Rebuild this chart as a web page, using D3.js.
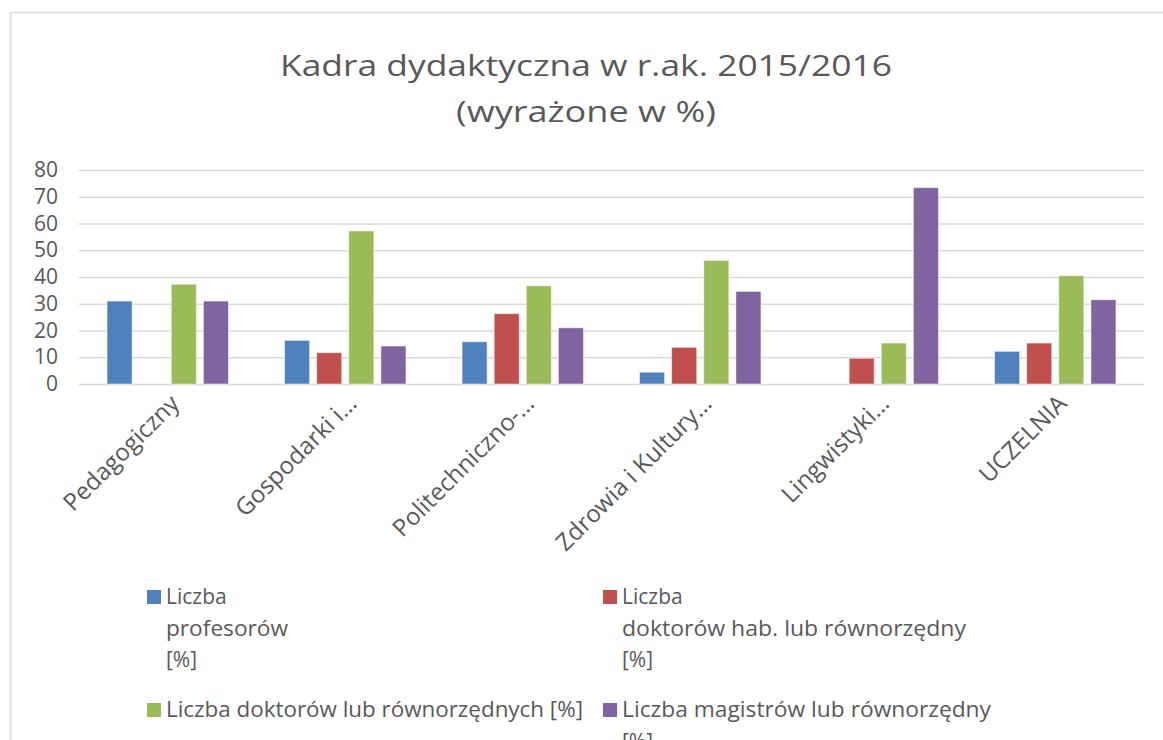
<!DOCTYPE html>
<html>
<head>
<meta charset="utf-8">
<script src="https://cdn.jsdelivr.net/npm/d3@7"></script>
<style>
  html, body { margin: 0; padding: 0; background: #fff; overflow: hidden; }
  svg { display: block; font-family: "Open Sans", sans-serif; }
</style>
</head>
<body>
<svg id="chart"></svg>
<script>
// chart data
var categories = ["Pedagogiczny", "Gospodarki i\u2026", "Politechniczno-\u2026",
    "Zdrowia i Kultury\u2026", "Lingwistyki\u2026", "UCZELNIA"];
var seriesNames = [
    ["Liczba", "profesorów", "[%]"],
    ["Liczba", "doktorów hab. lub równorzędny", "[%]"],
    ["Liczba doktorów lub równorzędnych [%]"],
    ["Liczba magistrów lub równorzędny", "[%]"]
];
var profesorow = [31.0, 16.3, 15.8, 4.4, null, 12.2];
var doktorowHab = [null, 11.7, 26.3, 13.7, 9.6, 15.3];
var doktorow = [37.3, 57.2, 36.7, 46.2, 15.3, 40.5];
var magistrow = [31.0, 14.2, 21.0, 34.6, 73.4, 31.5];
var yTicks = [0, 10, 20, 30, 40, 50, 60, 70, 80];
var colors = ["#4F81BD", "#C0504D", "#9BBB59", "#8064A2"];

var series = [profesorow, doktorowHab, doktorow, magistrow];

var width = 1163, height = 740;
var svg = d3.select('#chart')
    .attr('width', width)
    .attr('height', height);

// outer frame of the chart
svg.append('rect')
    .attr('x', 10.5).attr('y', 12.5)
    .attr('width', 1170).attr('height', 800)
    .attr('fill', 'none')
    .attr('stroke', '#d9d9d9')
    .attr('stroke-width', 1.5);

// title
svg.append('text')
    .attr('x', 586).attr('y', 76)
    .attr('text-anchor', 'middle')
    .attr('font-size', 30)
    .attr('fill', '#595959')
    .attr('textLength', 612)
    .attr('lengthAdjust', 'spacingAndGlyphs')
    .text('Kadra dydaktyczna w r.ak. 2015/2016');
svg.append('text')
    .attr('x', 586).attr('y', 122)
    .attr('text-anchor', 'middle')
    .attr('font-size', 30)
    .attr('fill', '#595959')
    .attr('textLength', 260)
    .attr('lengthAdjust', 'spacingAndGlyphs')
    .text('(wyrażone w %)');

var x0 = d3.scaleBand()
    .domain(categories)
    .range([79, 1144])
    .paddingInner(0.316)
    .paddingOuter(0.158);

var x1 = d3.scaleBand()
    .domain(d3.range(series.length))
    .range([0, x0.bandwidth()])
    .paddingInner(0.22);

var y = d3.scaleLinear()
    .domain([0, 80])
    .range([384, 170]);

// gridlines + y labels
var yAxis = d3.axisLeft(y)
    .tickValues(yTicks)
    .tickSize(-(1144 - 79))
    .tickPadding(21);

var gy = svg.append('g')
    .attr('transform', 'translate(79,0)')
    .call(yAxis);
gy.select('.domain').remove();
gy.selectAll('.tick line')
    .attr('stroke', '#d9d9d9')
    .attr('stroke-width', 1.5);
gy.selectAll('.tick text')
    .attr('fill', '#595959')
    .attr('font-size', 21)
    .attr('font-family', '"Open Sans", sans-serif');

// bars
var groups = svg.append('g')
    .selectAll('g')
    .data(categories)
    .enter().append('g')
    .attr('transform', function (d) { return 'translate(' + x0(d) + ',0)'; });

groups.selectAll('rect')
    .data(function (d, i) {
        return series.map(function (s, k) { return { k: k, v: s[i] }; })
            .filter(function (e) { return e.v != null; });
    })
    .enter().append('rect')
    .attr('x', function (d) { return x1(d.k); })
    .attr('y', function (d) { return y(d.v); })
    .attr('width', x1.bandwidth())
    .attr('height', function (d) { return y(0) - y(d.v); })
    .attr('fill', function (d) { return colors[d.k]; })
    .attr('stroke', '#ffffff')
    .attr('stroke-opacity', 0.5)
    .attr('stroke-width', 1);

// category labels, rotated
svg.append('g')
    .selectAll('text')
    .data(categories)
    .enter().append('text')
    .attr('transform', function (d) {
        var cx = x0(d) + x0.bandwidth() / 2;
        return 'translate(' + (cx + 13) + ',405) rotate(-45)';
    })
    .attr('text-anchor', 'end')
    .attr('font-size', 24)
    .attr('fill', '#595959')
    .text(function (d) { return d; });

// legend
var legendPos = [
    { x: 147, y: 604, widths: [null, 122, null] },
    { x: 603, y: 604, widths: [null, 344, null] },
    { x: 147, y: 717, widths: [417] },
    { x: 603, y: 717, widths: [369, null] }
];
var lineGap = 31.5;

var legend = svg.append('g')
    .selectAll('g')
    .data(seriesNames)
    .enter().append('g');

legend.append('rect')
    .attr('x', function (d, i) { return legendPos[i].x; })
    .attr('y', function (d, i) { return legendPos[i].y - 14; })
    .attr('width', 14)
    .attr('height', 14)
    .attr('fill', function (d, i) { return colors[i]; });

legend.each(function (lines, i) {
    var g = d3.select(this);
    var p = legendPos[i];
    lines.forEach(function (line, j) {
        var t = g.append('text')
            .attr('x', p.x + 19)
            .attr('y', p.y + j * lineGap)
            .attr('font-size', 21)
            .attr('fill', '#595959')
            .text(line);
        if (p.widths[j]) {
            t.attr('textLength', p.widths[j])
                .attr('lengthAdjust', 'spacingAndGlyphs');
        }
    });
});
</script>
</body>
</html>
